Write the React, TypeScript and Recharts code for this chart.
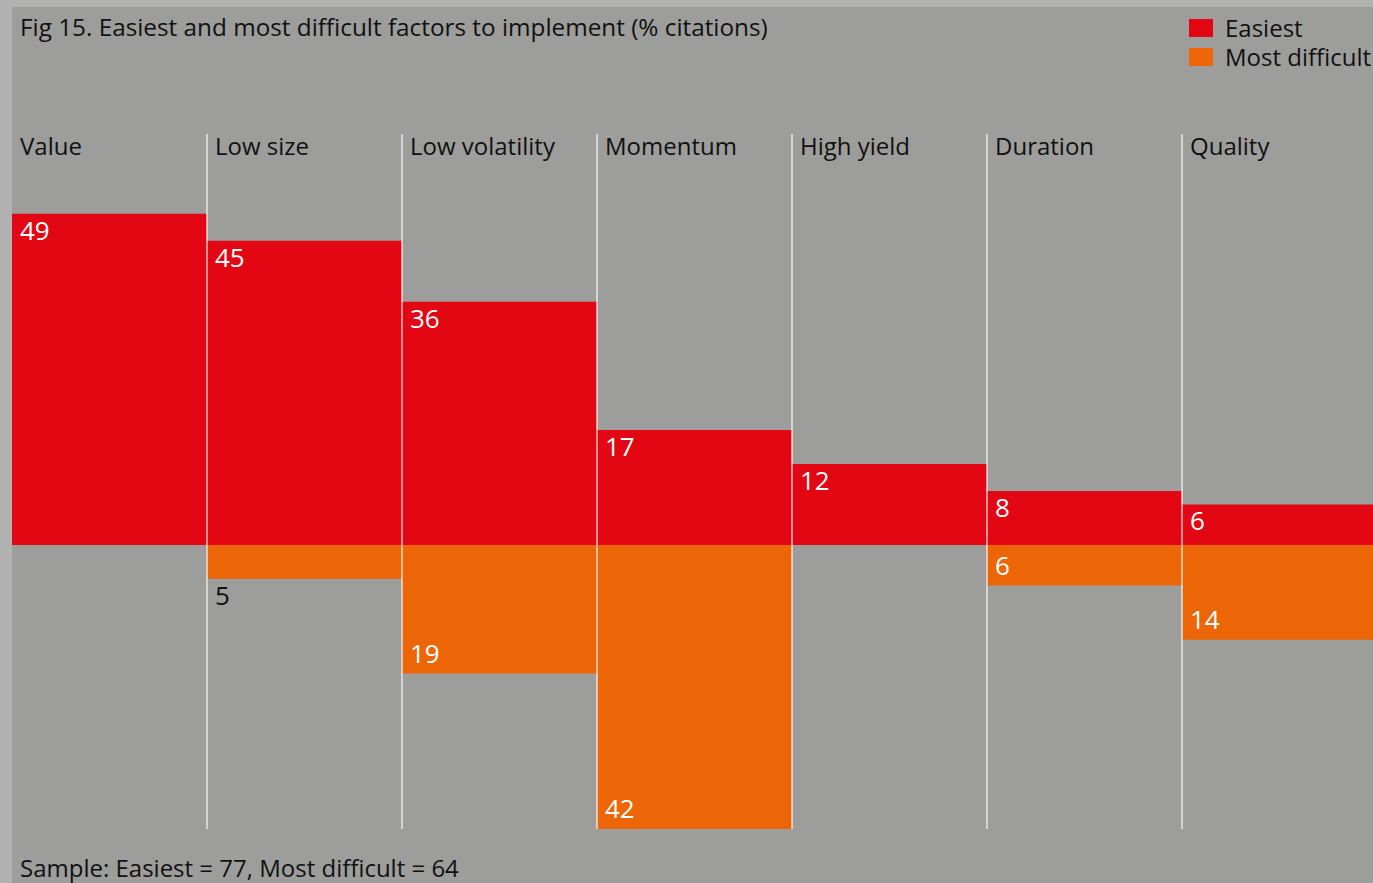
import { BarChart, Bar, XAxis, YAxis, ReferenceLine, LabelList } from 'recharts'

const categories = ['Value', 'Low size', 'Low volatility', 'Momentum', 'High yield', 'Duration', 'Quality']
const easiest = [49, 45, 36, 17, 12, 8, 6]
const mostDifficult = [0, 5, 19, 42, 0, 6, 14]

const legendItems = [
  { label: 'Easiest', color: '#e30613' },
  { label: 'Most difficult', color: '#ec6608' },
]

const data = categories.map((name, i) => ({
  name,
  easiest: easiest[i],
  difficult: mostDifficult[i] ? -mostDifficult[i] : null,
}))

const font = '"Open Sans", sans-serif'

const CategoryTick = (props: any) => {
  const { x, payload } = props
  const half = payload.offset || 97.5
  return (
    <text x={x - half + 8} y={145} dominantBaseline="central" fontSize={24} fill="#111" fontFamily={font}>
      {payload.value}
    </text>
  )
}

const EasyLabel = (props: any) => {
  const { x, y, height, value } = props
  if (!value) return null
  const top = Math.min(y, y + height)
  return (
    <text x={x + 8} y={top + 16} dominantBaseline="central" fontSize={26} fill="#fff" fontFamily={font}>
      {value}
    </text>
  )
}

const HardLabel = (props: any) => {
  const { x, y, height, value } = props
  if (!value) return null
  const h = Math.abs(height)
  const bottom = Math.max(y, y + height)
  const inside = h >= 38
  return (
    <text
      x={x + 8}
      y={inside ? bottom - 21 : bottom + 16}
      dominantBaseline="central"
      fontSize={26}
      fill={inside ? '#fff' : '#111'}
      fontFamily={font}
    >
      {Math.abs(value)}
    </text>
  )
}

export default function App() {
  return (
    <div
      style={{
        position: 'fixed',
        left: 0,
        top: 0,
        width: 1373,
        height: 883,
        overflow: 'hidden',
        background: '#b1b1b1',
        fontFamily: font,
      }}
    >
      <div style={{ position: 'absolute', left: 12, top: 7, right: 0, bottom: 0, background: '#9d9d9b' }} />
      <div style={{ position: 'absolute', left: 0, top: 0 }}>
        <BarChart
          width={1400}
          height={883}
          data={data}
          stackOffset="sign"
          barCategoryGap={0}
          margin={{ top: 104, right: 23, bottom: 54, left: 12 }}
        >
          <XAxis dataKey="name" orientation="top" height={30} axisLine={false} tickLine={false} tick={<CategoryTick />} />
          <YAxis hide domain={[-42, 60.8]} allowDataOverflow />
          <Bar dataKey="easiest" stackId="a" fill="#e30613" isAnimationActive={false}>
            <LabelList dataKey="easiest" content={<EasyLabel />} />
          </Bar>
          <Bar dataKey="difficult" stackId="a" fill="#ec6608" isAnimationActive={false}>
            <LabelList dataKey="difficult" content={<HardLabel />} />
          </Bar>
          {categories.slice(1).map((c) => (
            <ReferenceLine
              key={c}
              x={c}
              position="start"
              stroke="rgba(255,255,255,0.75)"
              strokeWidth={1.5}
              ifOverflow="visible"
            />
          ))}
        </BarChart>
      </div>
      <div style={{ position: 'absolute', left: 20, top: 10, fontSize: 24.3, color: '#111', whiteSpace: 'nowrap' }}>
        Fig 15. Easiest and most difficult factors to implement (% citations)
      </div>
      {legendItems.map((it, i) => (
        <div
          key={it.label}
          style={{
            position: 'absolute',
            left: 1189,
            top: 16 + i * 29,
            height: 24,
            display: 'flex',
            alignItems: 'center',
            whiteSpace: 'nowrap',
            fontSize: 24,
            lineHeight: '24px',
            color: '#111',
          }}
        >
          <span style={{ width: 24, height: 18, background: it.color, marginRight: 12, display: 'inline-block' }} />
          <span>{it.label}</span>
        </div>
      ))}
      <div style={{ position: 'absolute', left: 20, top: 851, fontSize: 24, color: '#111', whiteSpace: 'nowrap' }}>
        Sample: Easiest = 77, Most difficult = 64
      </div>
    </div>
  )
}
